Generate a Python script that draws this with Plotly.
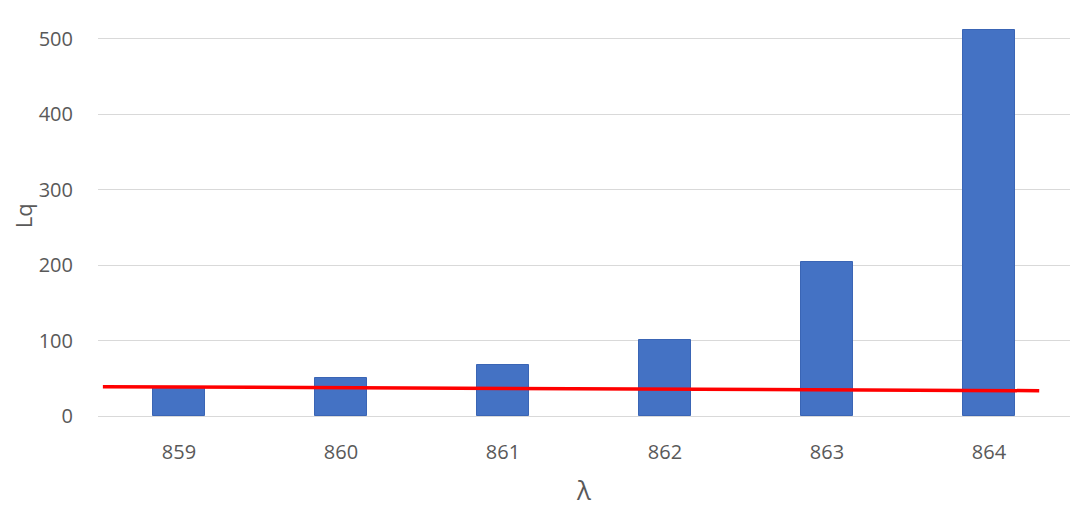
import plotly.graph_objects as go

categories = [859, 860, 861, 862, 863, 864]
lq_values = [37, 50, 68, 101, 204, 511]
line_x = [858.53, 864.31]
line_y = [38.8, 33.5]
y_ticks = [0, 100, 200, 300, 400, 500]

fig = go.Figure()
fig.add_trace(go.Bar(x=categories, y=lq_values, width=0.315,
                     marker=dict(color="#4472C4", line=dict(color="#3A65B5", width=1)),
                     showlegend=False))
fig.add_trace(go.Scatter(x=line_x, y=line_y, mode="lines",
                         line=dict(color="#FF0000", width=3.5), showlegend=False))

font_fam = "Open Sans, Noto Sans, sans-serif"
fig.update_layout(
    width=1084, height=515,
    margin=dict(l=90, r=22, t=8, b=107),
    paper_bgcolor="white", plot_bgcolor="white",
    font=dict(family=font_fam, color="#595959", size=20),
    xaxis=dict(range=[858.5, 864.5], tickvals=categories, ticktext=[str(c) for c in categories],
               showgrid=False, zeroline=False, showline=False, automargin=False,
               ticks="outside", ticklen=18, tickcolor="rgba(0,0,0,0)",
               title=dict(text="λ", font=dict(size=26, color="#595959"), standoff=17)),
    yaxis=dict(range=[0, 530], tickvals=y_ticks, showgrid=True, gridcolor="#D9D9D9",
               gridwidth=1, zeroline=True, zerolinecolor="#D9D9D9", zerolinewidth=1,
               showline=False, automargin=False,
               ticks="outside", ticklen=20, tickcolor="rgba(0,0,0,0)"),
    bargap=0,
)
fig.add_annotation(text="Lq", xref="paper", yref="paper", x=-0.077, y=0.5,
                   xanchor="center", yanchor="middle", textangle=-90, showarrow=False,
                   borderpad=0,
                   font=dict(size=22, color="#595959", family=font_fam))
fig.write_html("out.html")
